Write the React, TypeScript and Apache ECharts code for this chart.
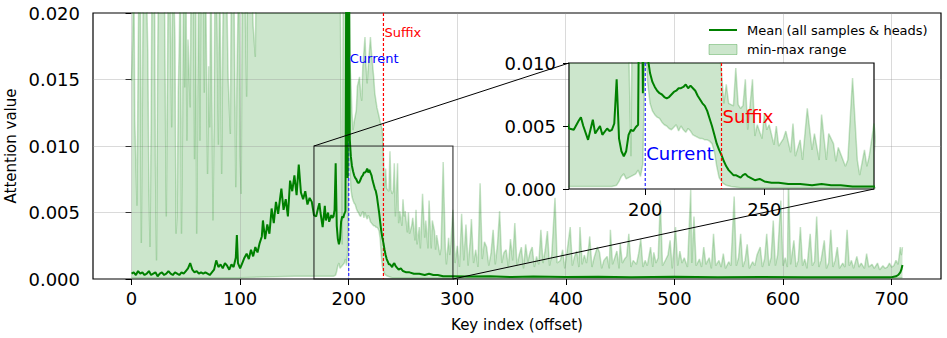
import React, { useEffect, useRef } from "react";
import * as echarts from "echarts";

// ---------- data ----------
const xTicks = [0, 100, 200, 300, 400, 500, 600, 700];
const yGridValues = [0.005, 0.01, 0.015];
const insetXTicks = [200, 250];
const currentIdx = 200;
const suffixIdx = 232;
const insetRange = [168, 296];

const meanPts: number[][] = [
  [0, 0.0004], [2, 0.0005], [4, 0.0003], [6, 0.0006], [8, 0.0004], [10, 0.0005], [12, 0.0003], [14, 0.0004],
  [16, 0.0006], [18, 0.0003], [20, 0.0004], [22, 0.0005], [24, 0.0002], [26, 0.0004], [28, 0.0005], [30, 0.0003],
  [32, 0.0004], [34, 0.0006], [36, 0.0004], [38, 0.0003], [40, 0.0005], [42, 0.0004], [44, 0.0003], [46, 0.0005],
  [48, 0.0004], [50, 0.0006], [52, 0.0008], [54, 0.0012], [56, 0.0007], [58, 0.0005], [60, 0.0006], [62, 0.0004],
  [64, 0.0005], [66, 0.0004], [68, 0.0005], [70, 0.0004], [72, 0.0003], [74, 0.0005], [76, 0.0007], [78, 0.0014],
  [80, 0.0009], [82, 0.0011], [84, 0.0008], [86, 0.0012], [88, 0.001], [90, 0.0007], [92, 0.0011], [94, 0.0009],
  [96, 0.0016], [97, 0.0033], [98, 0.0012], [100, 0.0008], [102, 0.0012], [104, 0.0016], [106, 0.0019], [108, 0.0015],
  [110, 0.0022], [112, 0.0017], [114, 0.0024], [116, 0.002], [118, 0.0027], [120, 0.0032], [121, 0.0044], [123, 0.003],
  [125, 0.0041], [127, 0.0034], [129, 0.0053], [131, 0.0042], [133, 0.0058], [135, 0.0049], [137, 0.0062], [138, 0.0068],
  [140, 0.0052], [142, 0.006], [144, 0.0047], [146, 0.0074], [148, 0.0066], [150, 0.0078], [152, 0.0063], [154, 0.0086],
  [156, 0.0065], [158, 0.006], [160, 0.0066], [162, 0.0056], [164, 0.0061], [166, 0.0058], [168, 0.0048], [170, 0.0047],
  [172, 0.0054], [173, 0.0057], [174, 0.005], [176, 0.0039], [178, 0.0055], [179, 0.0044], [181, 0.005], [182, 0.0043],
  [184, 0.0048], [185, 0.0046], [186, 0.0047], [187, 0.0052], [188, 0.0087], [189, 0.004], [190, 0.003], [191, 0.0026],
  [192, 0.003], [193, 0.0043], [194, 0.0047], [195, 0.0046], [196, 0.0049], [197, 0.0051], [198, 0.03], [199, 0.0076],
  [200, 0.03], [201, 0.0105], [202, 0.0092], [203, 0.0085], [204, 0.0081], [205, 0.0078], [206, 0.0076], [207, 0.0075],
  [208, 0.0073], [209, 0.0072], [210, 0.0073], [211, 0.0075], [212, 0.0077], [213, 0.0078], [214, 0.008], [215, 0.008],
  [216, 0.0081], [217, 0.0083], [218, 0.008], [219, 0.0082], [220, 0.008], [221, 0.0078], [222, 0.0074], [223, 0.0071],
  [224, 0.0068], [225, 0.0066], [226, 0.0062], [227, 0.0056], [228, 0.005], [229, 0.0043], [230, 0.0036], [231, 0.0031],
  [232, 0.0027], [233, 0.0022], [234, 0.0018], [235, 0.0015], [236, 0.0013], [237, 0.0011], [238, 0.0011], [239, 0.001],
  [240, 0.0009], [241, 0.0011], [242, 0.0012], [243, 0.001], [244, 0.0009], [246, 0.0007], [248, 0.0008], [250, 0.0006],
  [253, 0.0005], [256, 0.0005], [260, 0.0004], [265, 0.0004], [270, 0.0003], [274, 0.0004], [278, 0.0003], [282, 0.0003],
  [287, 0.0002], [292, 0.0002], [296, 0.0002], [310, 0.00018], [330, 0.0002], [350, 0.00015], [370, 0.00018], [400, 0.00015],
  [430, 0.00017], [460, 0.00014], [500, 0.00016], [540, 0.00013], [580, 0.00015], [620, 0.00013], [660, 0.00014], [700, 0.00013],
  [704, 0.0002], [706, 0.0003], [708, 0.0005], [709, 0.0007], [710, 0.00105],
];

const maxPts: number[][] = [
  [0, 0.0149], [1, 0.018], [2, 0.025], [3, 0.012], [5, 0.0055], [6, 0.016], [7, 0.025], [8, 0.025], [9, 0.0027],
  [10, 0.014], [11, 0.025], [13, 0.025], [15, 0.017], [16, 0.0069], [17, 0.0024], [18, 0.012], [19, 0.025], [21, 0.025],
  [22, 0.009], [23, 0.0014], [24, 0.016], [25, 0.025], [27, 0.025], [29, 0.021], [30, 0.025], [32, 0.0047], [33, 0.015],
  [34, 0.025], [35, 0.025], [37, 0.0114], [38, 0.025], [40, 0.018], [41, 0.0034], [42, 0.0049], [43, 0.014], [44, 0.0179],
  [45, 0.025], [46, 0.0034], [47, 0.012], [48, 0.025], [49, 0.0144], [50, 0.025], [51, 0.0104], [52, 0.018], [54, 0.0129],
  [55, 0.025], [57, 0.025], [58, 0.009], [59, 0.025], [60, 0.0034], [61, 0.0144], [62, 0.025], [63, 0.0104], [64, 0.025],
  [66, 0.025], [67, 0.014], [68, 0.025], [70, 0.0079], [71, 0.016], [72, 0.0114], [73, 0.025], [75, 0.0044], [76, 0.012],
  [77, 0.025], [78, 0.025], [80, 0.0101], [81, 0.025], [83, 0.0079], [84, 0.018], [85, 0.025], [87, 0.025], [89, 0.015],
  [91, 0.0109], [92, 0.025], [94, 0.025], [96, 0.0069], [97, 0.015], [99, 0.025], [100, 0.0092], [101, 0.0064], [102, 0.025],
  [104, 0.025], [106, 0.0137], [107, 0.025], [110, 0.025], [112, 0.019], [114, 0.0167], [115, 0.025], [192, 0.025],
  [193, 0.012], [194, 0.0026], [195, 0.025], [200, 0.025], [201, 0.0165], [202, 0.0149], [203, 0.0125], [204, 0.0112],
  [205, 0.0118], [207, 0.0127], [208, 0.0145], [210, 0.0152], [211, 0.014], [212, 0.0134], [213, 0.016], [215, 0.0182],
  [216, 0.016], [217, 0.0147], [218, 0.016], [220, 0.0182], [221, 0.017], [223, 0.0152], [224, 0.014], [226, 0.0129],
  [228, 0.0122], [229, 0.0118], [231, 0.0112], [232, 0.0092], [233, 0.0068], [234, 0.0083], [235, 0.0068], [237, 0.0066],
  [238, 0.0096], [239, 0.0067], [240, 0.0064], [241, 0.0066], [242, 0.0087], [243, 0.0047], [245, 0.0087], [246, 0.0042],
  [247, 0.0051], [249, 0.004], [250, 0.006], [251, 0.0047], [252, 0.0051], [254, 0.0035], [255, 0.005], [256, 0.0034],
  [258, 0.004], [259, 0.0046], [261, 0.0029], [262, 0.0052], [263, 0.0026], [265, 0.0039], [266, 0.0023], [268, 0.0064],
  [270, 0.0031], [271, 0.0044], [273, 0.0023], [274, 0.0059], [276, 0.0023], [277, 0.0044], [279, 0.0036], [280, 0.0022],
  [281, 0.0033], [283, 0.0023], [284, 0.0018], [285, 0.0023], [287, 0.0088], [289, 0.0023], [290, 0.0011], [292, 0.0031],
  [293, 0.0018], [294, 0.0026], [296, 0.0052], [298, 0.0012], [300, 0.0025], [302, 0.0009], [304, 0.0049], [306, 0.0014],
  [308, 0.0041], [310, 0.001], [312, 0.003], [313, 0.0045], [315, 0.0012], [317, 0.0022], [319, 0.0009], [321, 0.0072],
  [323, 0.0015], [325, 0.0028], [327, 0.0024], [329, 0.001], [331, 0.0019], [333, 0.0037], [335, 0.0011], [337, 0.0026],
  [339, 0.0051], [341, 0.0012], [343, 0.002], [345, 0.0022], [347, 0.0009], [349, 0.003], [351, 0.0014], [353, 0.0042],
  [355, 0.001], [357, 0.0018], [359, 0.0024], [361, 0.0008], [363, 0.0026], [365, 0.0013], [367, 0.002], [369, 0.0024],
  [371, 0.0009], [373, 0.0017], [375, 0.0011], [377, 0.0037], [379, 0.0012], [381, 0.0022], [383, 0.0036], [385, 0.001],
  [387, 0.0018], [390, 0.0061], [392, 0.0012], [395, 0.0014], [397, 0.0022], [399, 0.0008], [401, 0.002], [404, 0.0039],
  [406, 0.001], [408, 0.0017], [410, 0.0021], [412, 0.0009], [413, 0.0039], [415, 0.0011], [417, 0.0018], [419, 0.0012],
  [421, 0.0024], [422, 0.0032], [424, 0.0009], [426, 0.0016], [429, 0.0024], [431, 0.002], [433, 0.0008], [435, 0.0014],
  [438, 0.0017], [440, 0.0008], [441, 0.0037], [443, 0.0011], [445, 0.0016], [447, 0.0021], [449, 0.0008], [450, 0.0027],
  [452, 0.0012], [454, 0.0015], [456, 0.0017], [458, 0.0034], [460, 0.0009], [462, 0.0014], [465, 0.0011], [467, 0.0019],
  [469, 0.003], [471, 0.0009], [473, 0.0014], [475, 0.001], [478, 0.0024], [480, 0.0009], [481, 0.002], [483, 0.0012],
  [485, 0.0016], [487, 0.0059], [489, 0.001], [491, 0.0013], [494, 0.0018], [496, 0.0029], [498, 0.0008], [501, 0.0039],
  [503, 0.001], [505, 0.0021], [507, 0.0012], [509, 0.0016], [512, 0.0009], [515, 0.0067], [516, 0.0012], [518, 0.0047],
  [520, 0.001], [523, 0.0015], [525, 0.0009], [527, 0.0024], [529, 0.0011], [532, 0.0016], [534, 0.0008], [536, 0.0034],
  [538, 0.001], [541, 0.0014], [543, 0.0009], [545, 0.0019], [547, 0.0008], [550, 0.0013], [552, 0.001], [555, 0.0062],
  [557, 0.001], [559, 0.0016], [561, 0.0034], [563, 0.0009], [565, 0.0014], [567, 0.0026], [569, 0.0008], [572, 0.0013],
  [574, 0.001], [576, 0.0018], [579, 0.0024], [581, 0.0009], [583, 0.0015], [585, 0.0034], [587, 0.001], [589, 0.0016],
  [591, 0.0044], [593, 0.001], [595, 0.0018], [598, 0.0059], [600, 0.001], [602, 0.0016], [604, 0.0009], [605, 0.0075],
  [607, 0.0011], [610, 0.0029], [612, 0.0009], [614, 0.0014], [616, 0.0039], [618, 0.001], [620, 0.0015], [622, 0.0008],
  [625, 0.0034], [627, 0.001], [629, 0.0013], [631, 0.0047], [633, 0.0009], [635, 0.0014], [638, 0.0029], [640, 0.0008],
  [642, 0.0012], [644, 0.0037], [646, 0.0009], [648, 0.0014], [650, 0.0024], [652, 0.0008], [655, 0.0012], [657, 0.0009],
  [659, 0.0037], [661, 0.001], [663, 0.0014], [665, 0.0008], [668, 0.0017], [670, 0.0009], [672, 0.0012], [675, 0.0008],
  [677, 0.0019], [679, 0.0009], [682, 0.0011], [684, 0.0008], [687, 0.0012], [689, 0.0007], [692, 0.001], [694, 0.0008],
  [696, 0.0009], [698, 0.0012], [700, 0.0009], [702, 0.001], [704, 0.0014], [706, 0.0011], [708, 0.0024], [709, 0.0018],
  [710, 0.0024],
];

const minPts: number[][] = [
  [0, 0.0001], [50, 0.0001], [100, 0.0001], [150, 0.0002], [160, 0.0002], [170, 0.0002], [180, 0.0002], [186, 0.0002],
  [188, 0.0003], [189, 0.0006], [190, 0.001], [191, 0.0012], [192, 0.0008], [194, 0.001], [196, 0.0012], [197, 0.0015],
  [198, 0.001], [199, 0.002], [200, 0.012], [201, 0.0085], [202, 0.0068], [203, 0.0062], [204, 0.0059], [205, 0.0057],
  [206, 0.0056], [207, 0.0053], [208, 0.0051], [209, 0.005], [210, 0.0048], [211, 0.0047], [212, 0.0049], [213, 0.0051],
  [214, 0.0046], [215, 0.005], [216, 0.0047], [217, 0.0045], [218, 0.0048], [219, 0.0046], [220, 0.0043], [221, 0.0042],
  [222, 0.0041], [223, 0.004], [224, 0.004], [225, 0.0039], [226, 0.0039], [227, 0.0038], [228, 0.0036], [229, 0.003],
  [230, 0.0018], [231, 0.0009], [232, 0.0006], [233, 0.0004], [234, 0.0003], [236, 0.0002], [240, 0.0001], [710, 0.0001],
];

// ---------- styling ----------
const FONT = '"DejaVu Sans", sans-serif';
const GREEN = "#008000";
const FILL = "rgba(0,128,0,0.2)";
const EDGE = "rgba(0,128,0,0.22)";
const GRIDLINE = "rgba(150,150,150,0.35)";

function bandSeries(gi: number, z: number) {
  return {
    type: "custom",
    name: "min-max range",
    xAxisIndex: gi,
    yAxisIndex: gi,
    z,
    clip: true,
    silent: true,
    data: [[0, 0]],
    renderItem: (_p: any, api: any) => {
      const pts: number[][] = [];
      for (const p of maxPts) pts.push(api.coord(p));
      for (let i = minPts.length - 1; i >= 0; i--) pts.push(api.coord(minPts[i]));
      return { type: "polygon", shape: { points: pts }, style: { fill: FILL } };
    },
  };
}

function edgeSeries(data: number[][], gi: number, z: number) {
  return {
    type: "line",
    xAxisIndex: gi,
    yAxisIndex: gi,
    data,
    z,
    symbol: "none",
    showSymbol: false,
    silent: true,
    clip: true,
    lineStyle: { color: EDGE, width: 1.5 },
  };
}

function meanSeries(gi: number, z: number) {
  return {
    type: "line",
    name: "Mean (all samples & heads)",
    xAxisIndex: gi,
    yAxisIndex: gi,
    data: meanPts,
    z,
    symbol: "none",
    showSymbol: false,
    silent: true,
    clip: true,
    lineStyle: { color: GREEN, width: 2 },
  };
}

const tickStyle = { show: true, length: 6, lineStyle: { color: "#000", width: 1 } };
const labelStyle = { fontSize: 18, color: "#000", fontFamily: FONT };

export default function App() {
  const ref = useRef<HTMLDivElement>(null);
  useEffect(() => {
    if (!ref.current) return;
    const chart = echarts.init(ref.current, undefined, { renderer: "svg" });
    const option: any = {
      animation: false,
      backgroundColor: "#fff",
      textStyle: { fontFamily: FONT },
      grid: [
        { left: 93, top: 13, right: 6, bottom: 59, show: true, borderColor: "#000", borderWidth: 1.2, backgroundColor: "transparent" },
        { left: 569, top: 63, width: 305, height: 126, show: true, borderColor: "#000", borderWidth: 1.2, backgroundColor: "#fff", z: 10 },
      ],
      xAxis: [
        {
          gridIndex: 0, type: "value", min: -35.5, max: 745.5, splitNumber: 8,
          axisLine: { show: false },
          axisTick: { ...tickStyle, customValues: xTicks },
          axisLabel: {
            ...labelStyle, margin: 10, customValues: xTicks,
            formatter: (v: number) => (Math.abs(v % 100) < 1e-6 ? String(v) : ""),
          },
          splitLine: { show: false },
        },
        {
          gridIndex: 1, type: "value", min: insetRange[0], max: insetRange[1], splitNumber: 3, z: 11,
          axisLine: { show: false },
          axisTick: { ...tickStyle, customValues: insetXTicks },
          axisLabel: {
            ...labelStyle, margin: 11, customValues: insetXTicks,
            formatter: (v: number) => (Math.abs(v % 50) < 1e-6 ? String(v) : ""),
          },
          splitLine: { show: false },
        },
      ],
      yAxis: [
        {
          gridIndex: 0, type: "value", min: 0, max: 0.02, interval: 0.005,
          axisLine: { show: false },
          axisTick: tickStyle,
          axisLabel: { ...labelStyle, margin: 13, formatter: (v: number) => v.toFixed(3) },
          splitLine: { show: false },
        },
        {
          gridIndex: 1, type: "value", min: 0, max: 0.01, interval: 0.005, z: 11,
          axisLine: { show: false },
          axisTick: tickStyle,
          axisLabel: { ...labelStyle, margin: 13, formatter: (v: number) => v.toFixed(3) },
          splitLine: { show: false },
        },
      ],
      series: [
        bandSeries(0, 2),
        edgeSeries(maxPts, 0, 3),
        edgeSeries(minPts, 0, 3),
        meanSeries(0, 4),
        bandSeries(1, 12),
        edgeSeries(maxPts, 1, 13),
        edgeSeries(minPts, 1, 13),
        meanSeries(1, 14),
      ],
    };
    chart.setOption(option);

    const px = (gi: number, p: number[]) => chart.convertToPixel({ gridIndex: gi } as any, p) as number[];
    const snap = (v: number) => Math.round(v - 0.5) + 0.5;
    const a = px(0, [insetRange[0], 0.01]);
    const b = px(0, [insetRange[1], 0]);
    const ia = px(1, [insetRange[0], 0.01]);
    const ib = px(1, [insetRange[1], 0]);
    const cur = px(0, [currentIdx, 0.0166]);
    const suf = px(0, [suffixIdx, 0.0185]);
    const icur = px(1, [currentIdx, 0.0028]);
    const isuf = px(1, [suffixIdx, 0.00576]);
    const mTop = px(0, [currentIdx, 0.02])[1];
    const mBot = px(0, [currentIdx, 0])[1];
    const mLeft = px(0, [-35.5, 0])[0];
    const mRight = px(0, [745.5, 0])[0];
    const iTop = px(1, [currentIdx, 0.01])[1];
    const iBot = px(1, [currentIdx, 0])[1];

    const txt = (x: number, y: number, text: string, size: number, fill: string, z: number, extra: any = {}) => ({
      type: "text", x, y, z, silent: true,
      style: { text, fill, font: `${size}px ${FONT}`, align: "left", verticalAlign: "middle", ...extra },
    });
    const vline = (x: number, y1: number, y2: number, color: string, z: number) => ({
      type: "line", z, silent: true,
      shape: { x1: x, y1, x2: x, y2 },
      style: { stroke: color, lineWidth: 1.2, lineDash: [3, 2] },
    });
    const gridLines: any[] = [];
    for (const v of xTicks) {
      const x = snap(px(0, [v, 0])[0]);
      gridLines.push({ type: "line", z: 2.5, silent: true, shape: { x1: x, y1: mTop, x2: x, y2: mBot }, style: { stroke: GRIDLINE, lineWidth: 1 } });
    }
    for (const v of yGridValues) {
      const y = snap(px(0, [0, v])[1]);
      gridLines.push({ type: "line", z: 2.5, silent: true, shape: { x1: mLeft, y1: y, x2: mRight, y2: y }, style: { stroke: GRIDLINE, lineWidth: 1 } });
    }

    chart.setOption({
      graphic: {
        elements: [
          ...gridLines,
          vline(px(0, [currentIdx, 0])[0], mTop, mBot, "#2a2aff", 4),
          vline(px(0, [suffixIdx, 0])[0], mTop, mBot, "#ff0000", 4),
          vline(px(1, [currentIdx, 0])[0], iTop, iBot, "#2a2aff", 19),
          vline(px(1, [suffixIdx, 0])[0], iTop, iBot, "#ff0000", 19),
          { type: "rect", z: 5, silent: true, shape: { x: a[0], y: a[1], width: b[0] - a[0], height: b[1] - a[1] }, style: { fill: "none", stroke: "rgba(0,0,0,0.75)", lineWidth: 1.2 } },
          { type: "line", z: 5, silent: true, shape: { x1: a[0], y1: a[1], x2: ia[0], y2: ia[1] }, style: { stroke: "#000", lineWidth: 1 } },
          { type: "line", z: 5, silent: true, shape: { x1: b[0], y1: b[1], x2: ib[0], y2: ib[1] }, style: { stroke: "#000", lineWidth: 1 } },
          txt(cur[0] + 1, cur[1], "Current", 13, "#0000ff", 6),
          txt(suf[0] + 1, suf[1], "Suffix", 13, "#ff0000", 6),
          txt(icur[0] + 1, icur[1], "Current", 18, "#0000ff", 20),
          txt(isuf[0] + 1, isuf[1], "Suffix", 18, "#ff0000", 20),
          // legend
          { type: "line", z: 30, silent: true, shape: { x1: 709, y1: 30, x2: 737, y2: 30 }, style: { stroke: GREEN, lineWidth: 2 } },
          { type: "rect", z: 30, silent: true, shape: { x: 709, y: 44.5, width: 28, height: 10 }, style: { fill: FILL, stroke: "rgba(0,128,0,0.3)", lineWidth: 1 } },
          txt(747, 30, "Mean (all samples & heads)", 13, "#000", 30),
          txt(747, 49.5, "min-max range", 13, "#000", 30),
          // axis titles
          txt(517, 325, "Key index (offset)", 15, "#000", 30, { align: "center" }),
          { ...txt(10.5, 146, "Attention value", 15, "#000", 30, { align: "center" }), rotation: Math.PI / 2 },
        ],
      },
    });

    return () => chart.dispose();
  }, []);
  return <div ref={ref} style={{ position: "fixed", left: 0, top: 0, width: 947, height: 338 }} />;
}
